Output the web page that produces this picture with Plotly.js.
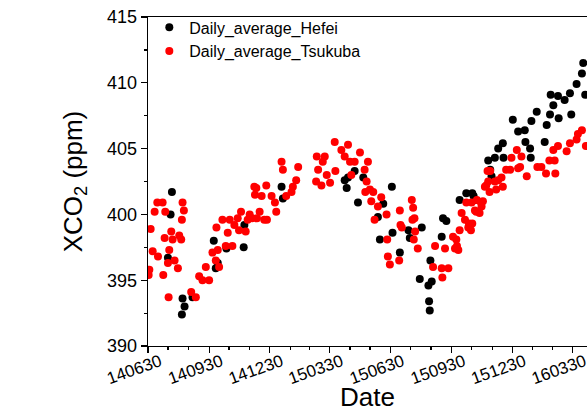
<!DOCTYPE html>
<html>
<head>
<meta charset="utf-8">
<script src="https://cdn.plot.ly/plotly-3.0.1.min.js"></script>
<style>
html,body{margin:0;padding:0;background:#fff;overflow:hidden;}
#chart{width:587px;height:412px;}
</style>
</head>
<body>
<div id="chart"></div>
<script>
// ---- data ----
const hefeiDates = [
"2014-07-30","2014-08-03","2014-08-05","2014-08-20","2014-08-21","2014-08-24","2014-09-05",
"2014-10-07","2014-10-10","2014-10-13","2014-10-26","2014-11-21","2014-11-22",
"2015-01-17","2015-01-19","2015-04-22","2015-04-25","2015-04-27","2015-05-07","2015-05-12","2015-05-20",
"2015-06-11","2015-06-14","2015-06-19","2015-07-02","2015-07-03","2015-07-14","2015-07-27","2015-07-29",
"2015-08-13","2015-08-16","2015-08-26","2015-08-27","2015-08-28","2015-08-29","2015-08-31",
"2015-09-15","2015-09-17","2015-09-22","2015-10-12","2015-10-22","2015-10-31","2015-11-02","2015-11-04",
"2015-11-24","2015-11-27","2015-11-29","2015-12-04","2015-12-09","2015-12-16","2015-12-17","2015-12-31",
"2016-01-08","2016-01-18","2016-01-19","2016-01-26","2016-01-27","2016-01-28","2016-02-05","2016-02-17",
"2016-02-20","2016-02-25","2016-02-26","2016-03-01","2016-03-08","2016-03-09","2016-03-18","2016-03-26",
"2016-03-28","2016-04-05","2016-04-13","2016-04-15","2016-04-18"
];
const hefeiXco2 = [
396.7,400.0,401.7,392.4,393.6,393.0,393.7,
398.0,395.9,396.3,397.4,397.5,399.2,
402.1,401.2,402.6,402.0,402.8,403.3,400.9,402.8,
399.8,398.1,400.8,402.1,398.6,397.1,398.8,398.2,
395.1,399.0,394.6,393.4,392.7,396.5,394.9,
398.3,399.7,399.5,401.1,401.6,401.6,401.4,401.1,
404.1,403.4,402.9,404.3,405.0,405.4,404.3,407.2,
406.3,406.4,405.5,405.0,404.3,407.1,407.8,405.5,
406.8,407.6,409.1,408.3,409.0,407.3,408.7,409.2,
407.6,409.9,410.7,411.5,409.1
];

const tsukubaDates = [
"2014-07-01","2014-07-02","2014-07-04","2014-07-07","2014-07-10","2014-07-14","2014-07-15","2014-07-22",
"2014-07-23","2014-07-25","2014-07-26","2014-07-30","2014-07-31","2014-08-01","2014-08-04","2014-08-06",
"2014-08-09","2014-08-14","2014-08-16","2014-08-19","2014-08-20","2014-08-21","2014-08-23","2014-09-03",
"2014-09-10","2014-09-15","2014-09-20","2014-09-25","2014-09-30","2014-10-05","2014-10-10","2014-10-11",
"2014-10-13","2014-10-15","2014-10-20","2014-10-25","2014-10-28","2014-10-31","2014-11-04","2014-11-07",
"2014-11-12","2014-11-14","2014-11-17","2014-11-24","2014-11-27","2014-11-30","2014-12-04","2014-12-07",
"2014-12-08","2014-12-10","2014-12-11","2014-12-15","2014-12-18","2014-12-22","2014-12-25","2014-12-26",
"2015-01-02","2015-01-07","2015-01-09","2015-01-17","2015-01-19","2015-01-24","2015-02-01","2015-02-03",
"2015-02-08","2015-02-11","2015-03-10","2015-03-11","2015-03-13","2015-03-18","2015-03-20","2015-03-23",
"2015-03-26","2015-03-31","2015-04-07","2015-04-08","2015-04-17","2015-04-22","2015-04-27","2015-04-30",
"2015-05-02","2015-05-07","2015-05-15","2015-05-22","2015-05-23","2015-05-25","2015-05-27","2015-05-30",
"2015-06-01","2015-06-04","2015-06-06","2015-06-11","2015-06-16","2015-06-24","2015-06-25","2015-06-26",
"2015-06-29","2015-07-13","2015-07-14","2015-07-15","2015-07-17","2015-08-01","2015-08-02","2015-08-03",
"2015-08-04","2015-08-05","2015-08-06","2015-08-10","2015-09-02","2015-09-05","2015-09-15","2015-09-16",
"2015-09-20","2015-09-25","2015-10-02","2015-10-05","2015-10-07","2015-10-08","2015-10-10","2015-10-12",
"2015-10-15","2015-10-20","2015-10-22","2015-10-25","2015-10-26","2015-10-29","2015-10-30","2015-10-31",
"2015-11-04","2015-11-06","2015-11-07","2015-11-11","2015-11-13","2015-11-14","2015-11-16","2015-11-19",
"2015-11-21","2015-11-23","2015-11-24","2015-11-26","2015-11-27","2015-12-04","2015-12-06","2015-12-09",
"2015-12-14","2015-12-16","2015-12-21","2015-12-27","2015-12-29","2016-01-06","2016-01-08","2016-01-11",
"2016-01-13","2016-01-21","2016-02-06","2016-02-12","2016-02-19","2016-02-24","2016-03-01","2016-03-03",
"2016-03-04","2016-03-08","2016-03-21","2016-03-26","2016-04-05","2016-04-07","2016-04-13","2016-04-19"
];
const tsukubaXco2 = [
395.4,395.8,398.9,397.2,400.2,400.9,396.8,400.9,
395.4,398.2,400.2,396.3,393.7,397.3,398.7,398.1,
396.5,395.9,398.4,398.1,399.6,400.9,400.3,394.1,
393.7,395.3,395.0,396.0,395.0,397.1,396.5,399.0,
397.3,396.0,399.6,397.6,398.6,399.6,397.6,399.2,
399.7,398.8,400.2,398.7,399.6,400.0,399.7,402.1,
401.5,402.0,399.7,400.2,401.4,399.6,402.2,399.6,
401.4,400.9,400.2,404.0,403.4,401.4,401.7,402.1,
402.6,403.6,402.5,404.4,403.4,402.2,404.0,404.4,
403.0,402.4,405.5,403.3,404.9,404.4,405.3,404.0,
403.0,404.0,404.7,403.4,401.7,402.5,404.0,401.9,
401.0,401.7,399.6,400.6,401.3,400.0,398.1,396.8,
396.2,396.5,400.3,399.2,399.0,401.1,399.6,400.5,
398.1,399.7,398.7,397.4,396.0,397.6,395.9,395.2,
397.4,395.9,398.3,397.4,398.1,397.6,397.3,398.8,
400.1,399.6,400.9,399.0,399.3,398.8,400.9,399.3,
400.3,400.2,401.1,400.1,400.9,400.6,401.0,402.1,
402.2,403.3,402.5,401.7,403.3,402.5,401.9,402.6,
402.8,402.1,403.4,403.4,404.3,404.9,403.5,403.6,
404.4,402.9,403.6,403.6,403.1,404.1,404.9,404.1,
403.1,405.2,404.8,405.4,405.7,406.1,406.4,405.2
];

const majorTickDates = ["2014-06-30","2014-09-30","2014-12-30","2015-03-30","2015-06-30","2015-09-30","2015-12-30","2016-03-30"];
const majorTickLabels = ["140630","140930","141230","150330","150630","150930","151230","160330"];
const minorTickDates = ["2014-07-30","2014-08-30","2014-10-30","2014-11-30","2015-01-30","2015-02-28",
  "2015-04-30","2015-05-30","2015-07-30","2015-08-30","2015-10-30","2015-11-30","2016-01-30","2016-02-29"];

// ---- chart ----
const FONT = "Arial, 'Liberation Sans', sans-serif";

const traces = [
  {
    x: hefeiDates, y: hefeiXco2, type: "scatter", mode: "markers",
    name: "Daily_average_Hefei",
    marker: {color: "#000000", size: 8}
  },
  {
    x: tsukubaDates, y: tsukubaXco2, type: "scatter", mode: "markers",
    name: "Daily_average_Tsukuba",
    marker: {color: "#ff0000", size: 8}
  }
];

const layout = {
  width: 587, height: 412,
  margin: {l: 148, r: 0, t: 17, b: 66, pad: 0},
  paper_bgcolor: "#ffffff", plot_bgcolor: "#ffffff",
  font: {family: FONT, color: "#000"},
  showlegend: true,
  legend: {
    x: 0.003, xanchor: "left", y: 1.02, yanchor: "top",
    bgcolor: "rgba(0,0,0,0)", borderwidth: 0,
    font: {family: FONT, size: 16, color: "#000"},
    tracegroupgap: 0
  },
  xaxis: {
    type: "date",
    range: ["2014-06-30", "2016-04-20 16:00"],
    tickmode: "array", tickvals: majorTickDates, ticktext: majorTickLabels,
    tickangle: -20,
    tickfont: {family: FONT, size: 17, color: "#000"},
    ticklabelshift: 12, ticklabelstandoff: -8, ticklabeloverflow: "allow",
    ticks: "outside", ticklen: 6, tickwidth: 1.2, tickcolor: "#000",
    minor: {tickmode: "array", tickvals: minorTickDates, ticks: "outside", ticklen: 3, tickwidth: 1.2, tickcolor: "#000", showgrid: false},
    showline: true, linecolor: "#000", linewidth: 1.3, mirror: true,
    showgrid: false, zeroline: false,
    title: {text: "Date", font: {family: FONT, size: 26, color: "#000"}, standoff: 2},
    automargin: false
  },
  yaxis: {
    range: [390, 415],
    tickmode: "linear", tick0: 390, dtick: 5,
    tickfont: {family: FONT, size: 18, color: "#000"},
    ticks: "outside", ticklen: 6, tickwidth: 1.2, tickcolor: "#000",
    minor: {tickmode: "linear", tick0: 392.5, dtick: 5, ticks: "outside", ticklen: 3, tickwidth: 1.2, tickcolor: "#000", showgrid: false},
    showline: true, linecolor: "#000", linewidth: 1.3, mirror: false,
    showgrid: false, zeroline: false,
    title: {text: "XCO<sub>2</sub> (ppm)", font: {family: FONT, size: 26, color: "#000"}, standoff: 17},
    automargin: false
  }
};

Plotly.newPlot("chart", traces, layout, {staticPlot: true, displayModeBar: false});
</script>
</body>
</html>
